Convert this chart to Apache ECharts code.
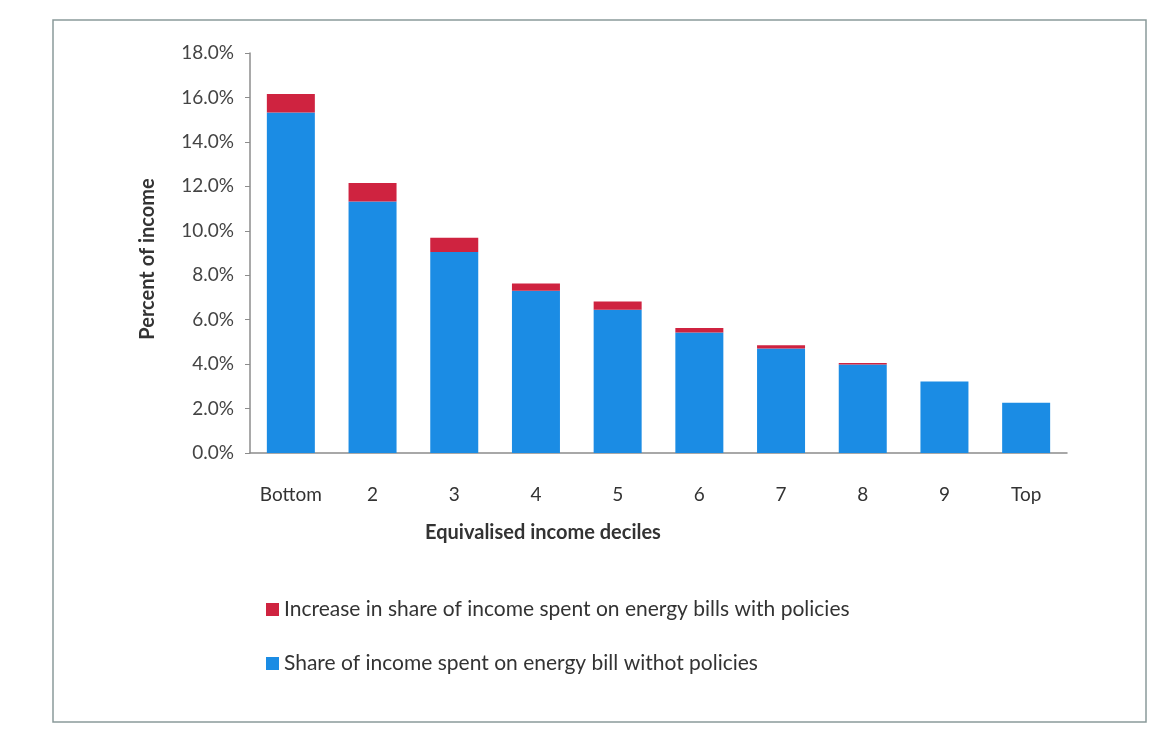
<!DOCTYPE html>
<html>
<head>
<meta charset="utf-8">
<script src="https://cdn.jsdelivr.net/npm/echarts@6/dist/echarts.min.js"></script>
<style>
html,body{margin:0;padding:0;background:#fff;}
#c{width:1156px;height:744px;}
</style>
</head>
<body>
<div id="c"></div>
<script>
const categories = ['Bottom','2','3','4','5','6','7','8','9','Top'];
const shareWithout = [15.32, 11.32, 9.05, 7.30, 6.45, 5.42, 4.70, 3.98, 3.22, 2.26];
const increaseWith = [0.83, 0.83, 0.64, 0.33, 0.37, 0.20, 0.15, 0.07, 0, 0];
const yTicks = [0, 2, 4, 6, 8, 10, 12, 14, 16, 18];
const seriesNames = ['Increase in share of income spent on energy bills with policies', 'Share of income spent on energy bill withot policies'];
const xTitle = 'Equivalised income deciles';
const yTitle = 'Percent of income';

const FONT = 'Lato';
const chart = echarts.init(document.getElementById('c'), null, {renderer:'canvas'});
chart.setOption({
  backgroundColor:'#ffffff',
  animation:false,
  textStyle:{fontFamily:FONT},
  grid:{left:250, right:89, top:53, bottom:291},
  graphic:[
    {type:'rect', shape:{x:53, y:20, width:1093, height:702}, style:{fill:'none', stroke:'#8a9a9a', lineWidth:1.5}, z:-1},
    {type:'text', x:543, y:533, style:{text:xTitle, fontFamily:FONT, fontSize:20, fontWeight:'bold', fill:'#333', textAlign:'center', textVerticalAlign:'middle'}},
    {type:'text', x:148, y:259, rotation:Math.PI/2, style:{text:yTitle, fontFamily:FONT, fontSize:20, fontWeight:'bold', fill:'#333', textAlign:'center', textVerticalAlign:'middle'}}
  ],
  legend:{
    orient:'vertical', left:261, top:594,
    itemWidth:13, itemHeight:13, itemGap:33,
    icon:'rect',
    data:[seriesNames[0], seriesNames[1]],
    textStyle:{fontFamily:FONT, fontSize:21, color:'#333'}
  },
  xAxis:{
    type:'category', data:categories,
    axisLine:{lineStyle:{color:'#8c8c8c', width:1.5}},
    axisTick:{show:false},
    axisLabel:{fontFamily:FONT, fontSize:19, color:'#333', margin:32}
  },
  yAxis:{
    type:'value', min:0, max:18, interval:2,
    splitLine:{show:false},
    axisLine:{show:true, lineStyle:{color:'#8c8c8c', width:1.5}},
    axisTick:{show:true, inside:false, length:5, lineStyle:{color:'#8c8c8c'}},
    axisLabel:{fontFamily:FONT, fontSize:19, color:'#444', margin:16,
      formatter:function(v){ return yTicks.indexOf(v) >= 0 ? v.toFixed(1) + '%' : ''; }}
  },
  series:[
    {name:seriesNames[1], type:'bar', stack:'s', data:shareWithout, barWidth:48,
      itemStyle:{color:'#1b8ce4'}},
    {name:seriesNames[0], type:'bar', stack:'s', data:increaseWith, barWidth:48,
      itemStyle:{color:'#cf2340'}}
  ]
});
</script>
</body>
</html>
